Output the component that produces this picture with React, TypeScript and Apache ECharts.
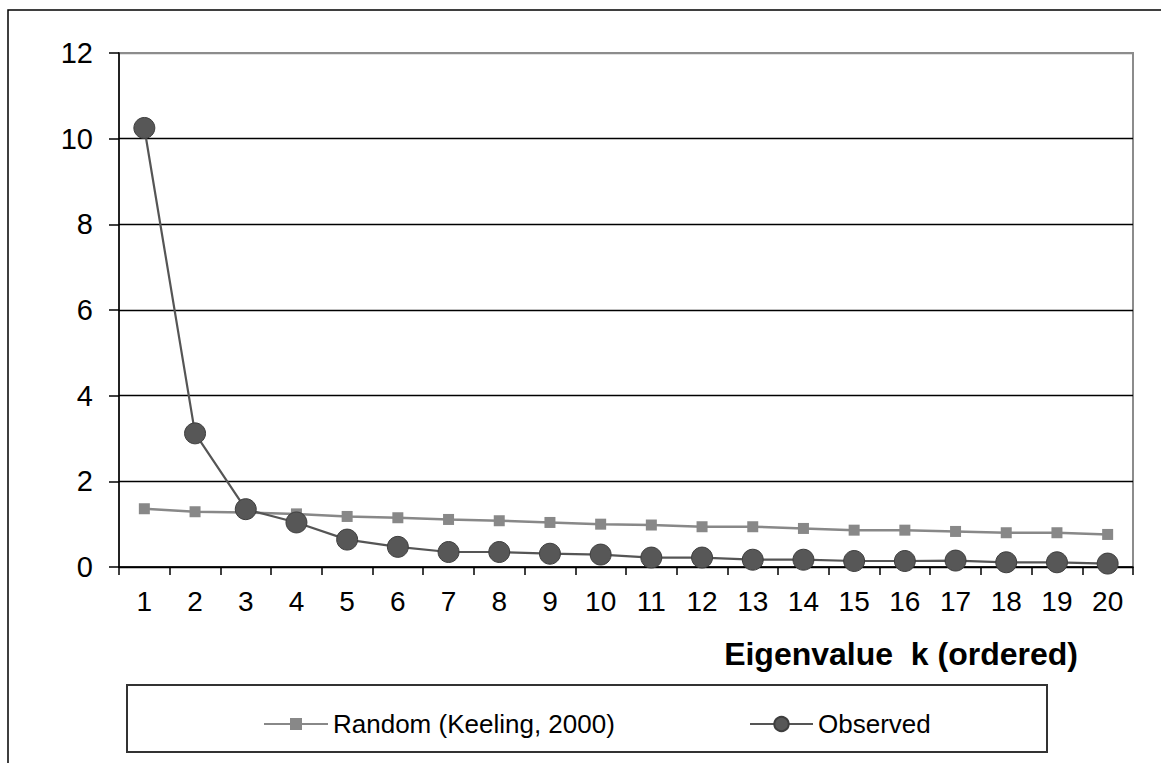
import React, { useEffect, useRef } from "react";
import * as echarts from "echarts";

const categories = ["1","2","3","4","5","6","7","8","9","10","11","12","13","14","15","16","17","18","19","20"];
const randomKeeling = [1.36,1.29,1.27,1.24,1.18,1.15,1.11,1.08,1.04,1.0,0.98,0.94,0.94,0.9,0.86,0.86,0.83,0.8,0.8,0.76];
const observed = [10.25,3.12,1.35,1.04,0.64,0.47,0.35,0.35,0.31,0.29,0.22,0.22,0.17,0.17,0.14,0.14,0.15,0.11,0.11,0.08];
const seriesNames = ["Random (Keeling, 2000)", "Observed"];
const xTitle = "Eigenvalue  k (ordered)";

const FONT = "'Liberation Sans', Arial, Helvetica, sans-serif";

export default function App() {
  const ref = useRef<HTMLDivElement>(null);
  useEffect(() => {
    if (!ref.current) return;
    const chart = echarts.init(ref.current, undefined, { renderer: "svg" });
    chart.setOption({
      animation: false,
      backgroundColor: "#ffffff",
      textStyle: { fontFamily: FONT },
      grid: {
        left: 119, right: 28, top: 53, bottom: 196,
        show: true, borderColor: "#8c8c8c", borderWidth: 2, backgroundColor: "transparent",
      },
      xAxis: {
        type: "category",
        data: categories,
        boundaryGap: true,
        axisLine: { lineStyle: { color: "#000", width: 1.5 } },
        axisTick: { show: true, inside: false, length: 8, alignWithLabel: false, lineStyle: { color: "#000", width: 1.5 } },
        axisLabel: { color: "#000", fontSize: 28, margin: 20, fontFamily: FONT, interval: 0 },
        splitLine: { show: false },
      },
      yAxis: {
        type: "value",
        min: 0, max: 12, interval: 2,
        axisLine: { show: true, lineStyle: { color: "#000", width: 1.5 } },
        axisTick: { show: true, inside: false, length: 10, lineStyle: { color: "#000", width: 1.5 } },
        axisLabel: { color: "#000", fontSize: 29, margin: 26, fontFamily: FONT },
        splitLine: {
          show: true,
          lineStyle: { color: ["#000", "#000", "#000", "#000", "#000", "#000", "#8c8c8c"], width: 1.3 },
        },
      },
      legend: [
        {
          data: [seriesNames[0]],
          left: 258, top: 706,
          itemWidth: 64, itemHeight: 15,
          textStyle: { fontSize: 26, color: "#000", fontFamily: FONT },
        },
        {
          data: [seriesNames[1]],
          left: 744, top: 706,
          itemWidth: 63, itemHeight: 18,
          textStyle: { fontSize: 26, color: "#000", fontFamily: FONT },
        },
      ],
      graphic: [
        {
          type: "rect",
          shape: { x: 8, y: 10, width: 1300, height: 900 },
          style: { fill: "none", stroke: "#000", lineWidth: 1.5 },
          silent: true,
        },
        {
          type: "rect",
          shape: { x: 127, y: 685, width: 920, height: 67 },
          style: { fill: "none", stroke: "#333", lineWidth: 2 },
          silent: true,
        },
        {
          type: "text",
          x: 1078, y: 654,
          style: {
            text: xTitle,
            fontSize: 32, fontWeight: "bold", fill: "#000", fontFamily: FONT,
            textAlign: "right", textVerticalAlign: "middle",
          },
          silent: true,
        },
      ],
      series: [
        {
          name: seriesNames[0],
          type: "line",
          data: randomKeeling,
          symbol: "rect",
          symbolSize: 11,
          itemStyle: { color: "#888888" },
          lineStyle: { color: "#888888", width: 2.5 },
          z: 2,
        },
        {
          name: seriesNames[1],
          type: "line",
          data: observed,
          symbol: "circle",
          symbolSize: 21,
          itemStyle: { color: "#575757", borderColor: "#3e3e3e", borderWidth: 1 },
          lineStyle: { color: "#555555", width: 2.2 },
          z: 3,
        },
      ],
    });
    return () => chart.dispose();
  }, []);
  return (
    <div
      ref={ref}
      style={{ position: "absolute", left: 0, top: 0, width: 1161, height: 763 }}
    />
  );
}
